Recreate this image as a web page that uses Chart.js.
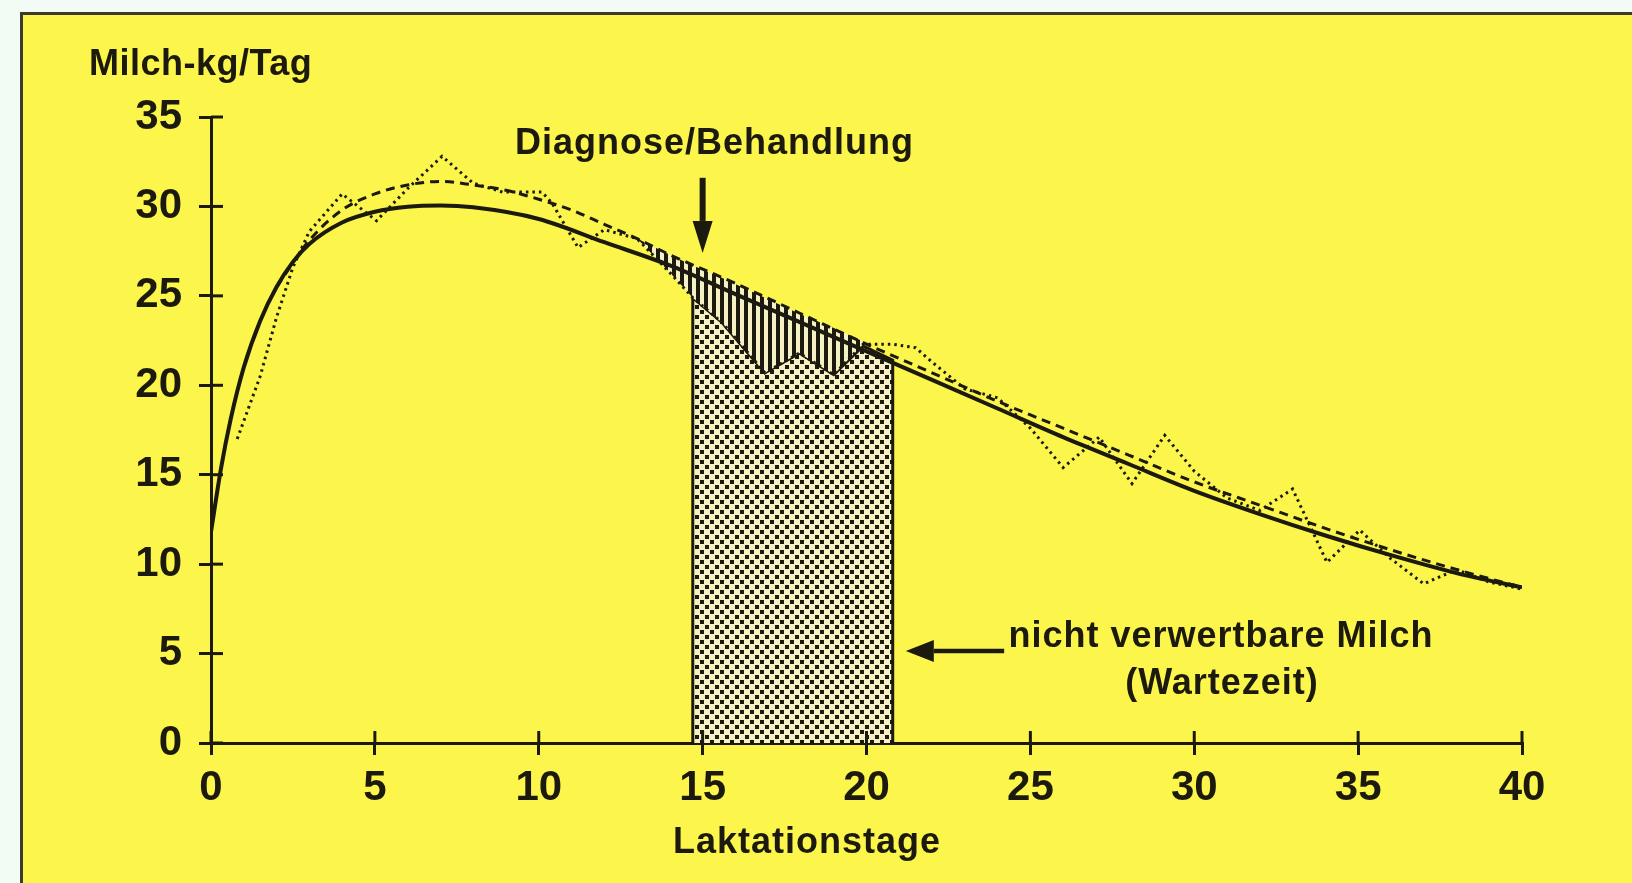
<!DOCTYPE html>
<html>
<head>
<meta charset="utf-8">
<script src="https://cdn.jsdelivr.net/npm/chart.js@4.4.1/dist/chart.umd.min.js"></script>
<style>
  html, body { margin: 0; padding: 0; background: #fcf64c; overflow: hidden; }
  #c { display: block; }
</style>
</head>
<body>
<canvas id="c" width="1632" height="883"></canvas>
<script>
// Laktationskurve mit Wartezeit nach Behandlung

// x-axis: Laktationstage, y-axis: Milch-kg/Tag
const xTicks = [0, 5, 10, 15, 20, 25, 30, 35, 40];
const yTicks = [0, 5, 10, 15, 20, 25, 30, 35];

// solid smooth curve
const solidX = [0, 0.3, 0.6, 1, 1.5, 2, 2.5, 3, 4, 5, 6, 7, 8, 10, 12, 14, 16, 18, 20, 22, 24, 26, 28, 30, 32, 34, 36, 38, 40];
const solidY = [11.8, 15.3, 18.1, 21.0, 23.6, 25.5, 26.9, 27.9, 29.1, 29.7, 29.98, 30.05, 29.95, 29.3, 28.0, 26.7, 25.1, 23.5, 21.9, 20.3, 18.7, 17.1, 15.6, 14.1, 12.8, 11.6, 10.5, 9.5, 8.7];

// dashed smooth curve (expected yield)
const dashX = [2, 3, 4, 5, 6, 7, 8, 9, 10, 11, 12, 13, 14, 16, 18, 20, 22, 24, 26, 28, 30, 32, 34, 36, 38, 40];
const dashY = [25.5, 28.1, 29.8, 30.7, 31.2, 31.4, 31.2, 30.9, 30.4, 29.8, 29.0, 28.2, 27.3, 25.7, 24.0, 22.3, 20.7, 19.1, 17.6, 16.1, 14.6, 13.3, 12.0, 10.8, 9.7, 8.7];

// dotted daily yields
const dotX = [0.8, 1.5, 2, 2.5, 3, 4, 5.05, 6, 7.05, 8, 8.9, 10.1, 10.4, 11.2, 12, 13, 14, 14.7, 15.6, 16.9, 17.95, 19, 19.9, 20.8, 21.5, 22, 23, 24, 25, 26, 27.1, 28.1, 29.1, 30, 31, 32, 33, 34.05, 35.05, 36, 37, 38, 39, 40];
const dotY = [17.0, 20.5, 23.8, 26.6, 28.6, 30.7, 29.2, 31.0, 32.8, 31.3, 30.8, 30.8, 30.2, 27.7, 28.7, 28.2, 26.3, 24.9, 23.5, 20.7, 21.8, 20.6, 22.3, 22.3, 22.1, 21.3, 19.8, 19.3, 17.6, 15.4, 17.1, 14.5, 17.2, 15.2, 13.7, 13.0, 14.2, 10.1, 11.9, 10.3, 8.9, 9.7, 9.0, 8.6];

// hatched loss area between expected and actual yield
const hatchX = [13, 14, 14.7, 15.6, 16.9, 17.95, 19, 19.9];
const hatchTop = [28.2, 27.3, 26.7, 26.0, 24.9, 24.0, 23.2, 22.45];
const hatchBottom = [28.2, 26.3, 24.9, 23.5, 20.7, 21.8, 20.6, 22.3];

// non-usable milk (Wartezeit), from day 14.7 to 20.8
const rectX = [14.7, 14.7, 15.6, 16.9, 17.95, 19, 19.9, 20.8, 20.8];
const rectY = [0, 24.9, 23.5, 20.7, 21.8, 20.6, 22.2, 21.4, 0];

const INK = '#1c1a0e';
const PALE = '#f5f1c4';
const YELLOW = '#fcf64c';

const pts = (xs, ys) => xs.map((x, i) => ({ x: x, y: ys[i] }));

function makePattern(w, h, draw) {
  const c = document.createElement('canvas');
  c.width = w; c.height = h;
  const g = c.getContext('2d');
  draw(g);
  return g.createPattern(c, 'repeat');
}

const dotPattern = makePattern(10, 10, g => {
  g.fillStyle = PALE; g.fillRect(0, 0, 10, 10);
  g.fillStyle = INK; g.fillRect(0, 0, 4, 4); g.fillRect(5, 5, 4, 4);
});
const hatchPattern = makePattern(8, 4, g => {
  g.fillStyle = PALE; g.fillRect(0, 0, 8, 4);
  g.fillStyle = INK; g.fillRect(0, 0, 4, 4);
});

function arrow(ctx, x1, y1, x2, y2, headLen, headW) {
  const a = Math.atan2(y2 - y1, x2 - x1);
  const bx = x2 - Math.cos(a) * headLen, by = y2 - Math.sin(a) * headLen;
  ctx.beginPath(); ctx.moveTo(x1, y1); ctx.lineTo(bx, by); ctx.stroke();
  ctx.beginPath();
  ctx.moveTo(x2, y2);
  ctx.lineTo(bx + Math.sin(a) * headW / 2, by - Math.cos(a) * headW / 2);
  ctx.lineTo(bx - Math.sin(a) * headW / 2, by + Math.cos(a) * headW / 2);
  ctx.closePath(); ctx.fill();
}

const decor = {
  id: 'decor',
  beforeDraw(chart) {
    // page margin, yellow panel and its top/left frame line
    const { ctx, width, height } = chart;
    ctx.save();
    ctx.fillStyle = '#f3fbf5';
    ctx.fillRect(0, 0, width, height);
    ctx.fillStyle = YELLOW;
    ctx.fillRect(21, 13, width - 21, height - 13);
    ctx.strokeStyle = '#3b3a2c'; ctx.lineWidth = 3;
    ctx.beginPath(); ctx.moveTo(21.5, height); ctx.lineTo(21.5, 13.5); ctx.lineTo(width, 13.5); ctx.stroke();
    ctx.restore();
  },
  afterDatasetsDraw(chart) {
    // inner half of the crossing tick marks
    const { ctx, scales: { x, y }, chartArea: a } = chart;
    ctx.save();
    ctx.strokeStyle = INK; ctx.lineWidth = 3;
    x.ticks.forEach(t => {
      const px = x.getPixelForValue(t.value);
      ctx.beginPath(); ctx.moveTo(px, a.bottom); ctx.lineTo(px, a.bottom - 12); ctx.stroke();
    });
    y.ticks.forEach(t => {
      const py = y.getPixelForValue(t.value);
      ctx.beginPath(); ctx.moveTo(a.left, py); ctx.lineTo(a.left + 12, py); ctx.stroke();
    });
    ctx.restore();
  },
  afterDraw(chart) {
    const { ctx, scales: { x, y } } = chart;
    ctx.save();
    ctx.fillStyle = INK; ctx.strokeStyle = INK;
    ctx.lineWidth = 6;
    arrow(ctx, x.getPixelForValue(15), y.getPixelForValue(31.6), x.getPixelForValue(15), y.getPixelForValue(27.4), 32, 20);
    ctx.lineWidth = 4.5;
    arrow(ctx, x.getPixelForValue(24.2), y.getPixelForValue(5.15), x.getPixelForValue(21.2), y.getPixelForValue(5.15), 28, 22);

    ctx.font = 'bold 36px "Liberation Sans", Arial, sans-serif';
    ctx.textBaseline = 'alphabetic';
    ctx.letterSpacing = '0.5px';
    ctx.textAlign = 'left';
    ctx.fillText('Milch-kg/Tag', 89, 75);
    ctx.letterSpacing = '1px';
    ctx.fillText('Diagnose/Behandlung', 515, 154);
    ctx.textAlign = 'center';
    ctx.fillText('nicht verwertbare Milch', 1221, 647);
    ctx.fillText('(Wartezeit)', 1222, 694);
    ctx.fillText('Laktationstage', 807, 853);
    ctx.restore();
  }
};

Chart.defaults.font.family = '"Liberation Sans", Arial, sans-serif';
Chart.defaults.color = INK;

new Chart(document.getElementById('c'), {
  type: 'line',
  data: {
    datasets: [
      { data: pts(solidX, solidY), borderColor: INK, borderWidth: 4, cubicInterpolationMode: 'monotone', pointRadius: 0, fill: false },
      { data: pts(dashX, dashY), borderColor: INK, borderWidth: 3, borderDash: [9, 6], cubicInterpolationMode: 'monotone', pointRadius: 0, fill: false },
      { data: pts(dotX, dotY), borderColor: INK, borderWidth: 3, borderDash: [2.5, 4], tension: 0, pointRadius: 0, fill: false },
      { data: pts(hatchX, hatchTop), borderColor: 'transparent', tension: 0, pointRadius: 0, fill: false },
      { data: pts(hatchX, hatchBottom), borderColor: 'transparent', backgroundColor: hatchPattern, tension: 0, pointRadius: 0, fill: 3 },
      { data: pts(rectX, rectY), borderColor: INK, borderWidth: 3, backgroundColor: dotPattern, tension: 0, pointRadius: 0, fill: 'origin' }
    ]
  },
  options: {
    responsive: false,
    animation: false,
    layout: { padding: { left: 0, right: 110, top: 117, bottom: 0 } },
    plugins: { legend: { display: false }, tooltip: { enabled: false } },
    scales: {
      x: {
        type: 'linear', min: 0, max: 40,
        afterBuildTicks: s => { s.ticks = xTicks.map(v => ({ value: v })); },
        afterFit: s => { s.height = 140; },
        ticks: { font: { size: 42, weight: 'bold' }, padding: 8, maxRotation: 0 },
        grid: { drawOnChartArea: false, drawTicks: true, tickLength: 12, lineWidth: 3, color: INK },
        border: { display: true, width: 3, color: INK }
      },
      y: {
        type: 'linear', min: 0, max: 35,
        afterBuildTicks: s => { s.ticks = yTicks.map(v => ({ value: v })); },
        afterFit: s => { s.width = 211; },
        ticks: { font: { size: 42, weight: 'bold' }, padding: 17 },
        grid: { drawOnChartArea: false, drawTicks: true, tickLength: 12, lineWidth: 3, color: INK },
        border: { display: true, width: 3, color: INK }
      }
    }
  },
  plugins: [decor]
});
</script>
</body>
</html>
